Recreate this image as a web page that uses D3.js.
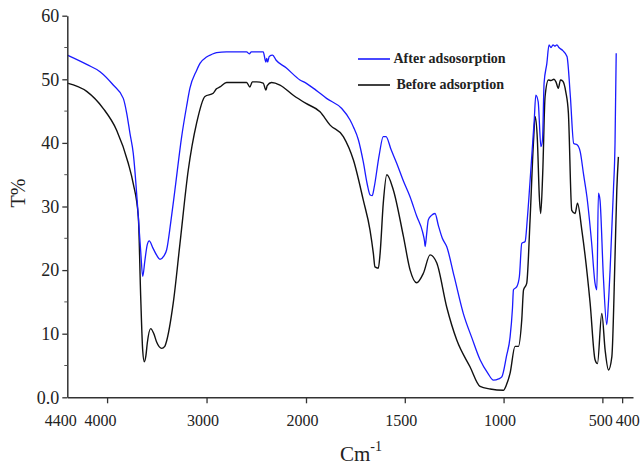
<!DOCTYPE html>
<html>
<head>
<meta charset="utf-8">
<script src="https://cdn.jsdelivr.net/npm/d3@7"></script>
<style>
  body { margin: 0; background: #fff; }
  svg { display: block; font-family: "Times New Roman", "Liberation Serif", serif; }
</style>
</head>
<body>
<div id="vis"></div>
<script>
// --- data (wavenumber in cm-1, transmittance in %) ---
const afterWn = [4400, 4200, 4071, 3938, 3837, 3803, 3770, 3737, 3686, 3660, 3642, 3620, 3596, 3576, 3540, 3500, 3468, 3430, 3401, 3360, 3318, 3250, 3200, 3167, 3100, 3066, 3000, 2950, 2899, 2800, 2700, 2597, 2570, 2550, 2430, 2410, 2403, 2395, 2385, 2370, 2336, 2300, 2200, 2061, 2000, 1950, 1896, 1819, 1777, 1760, 1735, 1710, 1690, 1675, 1665, 1655, 1630, 1609, 1595, 1570, 1541, 1507, 1473, 1440, 1410, 1400, 1397, 1390, 1381, 1365, 1347, 1330, 1310, 1288, 1250, 1204, 1160, 1119, 1080, 1051, 1025, 1009, 985, 967, 955, 950, 933, 920, 908, 891, 880, 866, 855, 845, 837, 825, 811, 803, 795, 781, 770, 760, 750, 740, 730, 720, 700, 679, 662, 645, 628, 612, 595, 578, 555, 537, 528, 520, 512, 495, 478, 470, 461, 444, 436, 430];
const afterT = [53.8, 52.3, 51.2, 49.1, 47.0, 44.7, 41.5, 38.4, 28.4, 22.5, 19.0, 21.5, 24.0, 24.6, 23.5, 22.3, 21.7, 22.2, 23.2, 27.5, 32.6, 41.0, 45.8, 48.6, 51.4, 52.5, 53.5, 53.9, 54.2, 54.3, 54.3, 54.3, 54.0, 54.3, 54.3, 53.0, 52.7, 53.3, 52.7, 53.6, 53.8, 53.0, 51.8, 49.9, 49.4, 48.3, 47.0, 45.4, 43.6, 42.5, 40.5, 37.0, 33.5, 31.8, 31.7, 33.0, 38.0, 41.0, 41.0, 39.0, 36.8, 34.0, 31.5, 28.5, 26.0, 24.5, 23.7, 25.5, 27.9, 28.6, 28.9, 27.0, 25.0, 23.7, 19.0, 13.2, 9.3, 5.9, 3.8, 2.7, 2.9, 3.2, 6.5, 9.5, 14.0, 16.9, 17.4, 19.0, 24.2, 24.5, 28.0, 34.0, 39.0, 43.5, 47.5, 46.5, 39.4, 40.5, 49.4, 52.5, 55.4, 55.0, 55.4, 55.2, 55.4, 55.0, 54.5, 53.6, 47.3, 39.9, 39.7, 38.6, 35.0, 31.5, 24.5, 17.9, 16.9, 32.1, 31.0, 19.0, 11.4, 14.5, 20.0, 32.6, 39.9, 54.1];

const beforeWn = [4400, 4205, 4038, 3904, 3787, 3737, 3686, 3662, 3642, 3626, 3610, 3596, 3562, 3530, 3502, 3451, 3420, 3408, 3335, 3267, 3184, 3100, 3016, 2933, 2900, 2865, 2798, 2597, 2564, 2540, 2497, 2430, 2403, 2390, 2346, 2262, 2128, 2000, 1929, 1878, 1811, 1760, 1710, 1676, 1659, 1651, 1634, 1625, 1609, 1591, 1558, 1507, 1473, 1440, 1406, 1372, 1338, 1288, 1237, 1170, 1119, 1068, 1001, 985, 967, 942, 925, 908, 899, 883, 866, 849, 840, 829, 819, 812, 802, 790, 773, 760, 745, 735, 723, 712, 700, 685, 672, 655, 638, 626, 604, 562, 537, 525, 503, 486, 469, 452, 436, 427, 419];
const beforeT = [49.4, 48.1, 45.4, 42.0, 36.8, 33.6, 28.4, 15.8, 7.4, 5.6, 6.5, 8.5, 10.8, 10.0, 8.7, 7.7, 8.0, 8.5, 14.8, 24.2, 35.7, 43.1, 47.3, 47.8, 48.5, 48.8, 49.5, 49.5, 48.8, 49.6, 49.6, 49.4, 48.3, 49.0, 49.5, 49.1, 47.5, 46.2, 44.9, 42.8, 41.0, 37.3, 31.0, 26.3, 22.6, 20.5, 20.3, 22.6, 30.5, 35.0, 32.6, 25.3, 20.0, 18.0, 19.5, 22.4, 21.1, 14.2, 9.0, 4.8, 1.7, 1.3, 1.1, 2.0, 3.8, 8.0, 8.0, 12.2, 16.9, 17.9, 27.9, 40.0, 44.1, 40.5, 31.5, 28.9, 35.2, 47.3, 49.9, 49.8, 50.0, 49.6, 48.6, 49.9, 49.7, 48.0, 44.7, 29.4, 28.9, 30.5, 26.3, 14.8, 5.9, 5.3, 13.2, 7.4, 4.3, 6.4, 22.1, 32.6, 37.8];

const xTicks = [4400, 4000, 3000, 2000, 1500, 1000, 500, 400];
const yTicks = [0, 10, 20, 30, 40, 50, 60];
const yMinorTicks = [5, 15, 25, 35, 45, 55];
const seriesNames = ["After adsosorption", "Before adsorption"];
const seriesColors = ["#1a1aff", "#111111"];

const width = 641, height = 467;

const svg = d3.select("#vis")
    .append("svg")
        .attr("width", width)
        .attr("height", height);

// the x axis is drawn with a break in scale at 2000 cm-1 (twice as wide below it)
const xScale = d3.scaleLinear()
    .domain([4400, 2000, 345])
    .range([67.3, 306, 633]);

const yScale = d3.scaleLinear()
    .domain([0, 60])
    .range([397.3, 15.7]);

// --- curves ---
const line = d3.line()
    .x(d => xScale(d[0]))
    .y(d => yScale(d[1]))
    .curve(d3.curveMonotoneX);

const afterData = afterWn.map((w, i) => [w, afterT[i]]);
const beforeData = beforeWn.map((w, i) => [w, beforeT[i]]);

svg.append("path")
    .datum(beforeData)
    .attr("fill", "none")
    .attr("stroke", seriesColors[1])
    .attr("stroke-width", 1.4)
    .attr("stroke-linejoin", "round")
    .attr("d", line);

svg.append("path")
    .datum(afterData)
    .attr("fill", "none")
    .attr("stroke", seriesColors[0])
    .attr("stroke-width", 1.3)
    .attr("stroke-linejoin", "round")
    .attr("d", line);

// --- x axis ---
const xAxis = svg.append("g")
    .attr("transform", `translate(0,${yScale(0)})`)
    .call(d3.axisBottom(xScale).tickValues(xTicks).tickSize(6).tickSizeOuter(0).tickFormat(d3.format("d")));

xAxis.select(".domain").attr("stroke", "#333").attr("stroke-width", 1.5);
xAxis.selectAll(".tick line").attr("stroke", "#333").attr("stroke-width", 1.3)
    .filter(d => d === 4400).remove();
xAxis.selectAll(".tick text")
    .attr("y", 29)
    .attr("dy", 0)
    .attr("dx", d => d === 4400 ? -7 : d === 4000 ? -7 : d === 400 ? 5 : d === 500 ? -2 : -4)
    .attr("fill", "#222")
    .style("font-size", "16px")
    .style("font-family", '"Times New Roman", "Liberation Serif", serif');

// --- y axis ---
const yAxis = svg.append("g")
    .attr("transform", `translate(${xScale(4400)},0)`)
    .call(d3.axisLeft(yScale).tickValues(yTicks).tickSize(5).tickSizeOuter(0)
        .tickFormat(d => d === 0 ? "0.0" : d));

yAxis.select(".domain").attr("stroke", "#333").attr("stroke-width", 1.5);
yAxis.selectAll(".tick line").attr("stroke", "#333").attr("stroke-width", 1.3);
yAxis.selectAll(".tick text")
    .attr("x", -8)
    .attr("fill", "#222")
    .style("font-size", "18px")
    .style("font-family", '"Times New Roman", "Liberation Serif", serif');

yAxis.selectAll(".minor")
    .data(yMinorTicks)
    .join("line")
        .attr("class", "minor")
        .attr("x1", -3)
        .attr("x2", 0)
        .attr("y1", d => yScale(d))
        .attr("y2", d => yScale(d))
        .attr("stroke", "#555")
        .attr("stroke-width", 1);

// --- axis titles ---
svg.append("text")
    .attr("transform", "translate(25,193) rotate(-90)")
    .attr("text-anchor", "middle")
    .attr("fill", "#222")
    .style("font-size", "20px")
    .text("T%");

const xTitle = svg.append("text")
    .attr("x", 340)
    .attr("y", 461)
    .attr("fill", "#222")
    .style("font-size", "21px");
xTitle.append("tspan").text("Cm");
xTitle.append("tspan")
    .attr("dy", -10)
    .style("font-size", "14px")
    .text("-1");

// --- legend ---
const legend = svg.append("g").attr("class", "legend");
const legendRows = [59, 85];

seriesNames.forEach((name, i) => {
    legend.append("line")
        .attr("x1", 358)
        .attr("x2", 390)
        .attr("y1", legendRows[i])
        .attr("y2", legendRows[i])
        .attr("stroke", seriesColors[i])
        .attr("stroke-width", 1.6);
    legend.append("text")
        .attr("x", i === 0 ? 393.5 : 396.5)
        .attr("y", legendRows[i])
        .attr("dy", "0.32em")
        .attr("fill", "#222")
        .style("font-size", "14px")
        .style("font-weight", "bold")
        .text(name);
});
</script>
</body>
</html>
